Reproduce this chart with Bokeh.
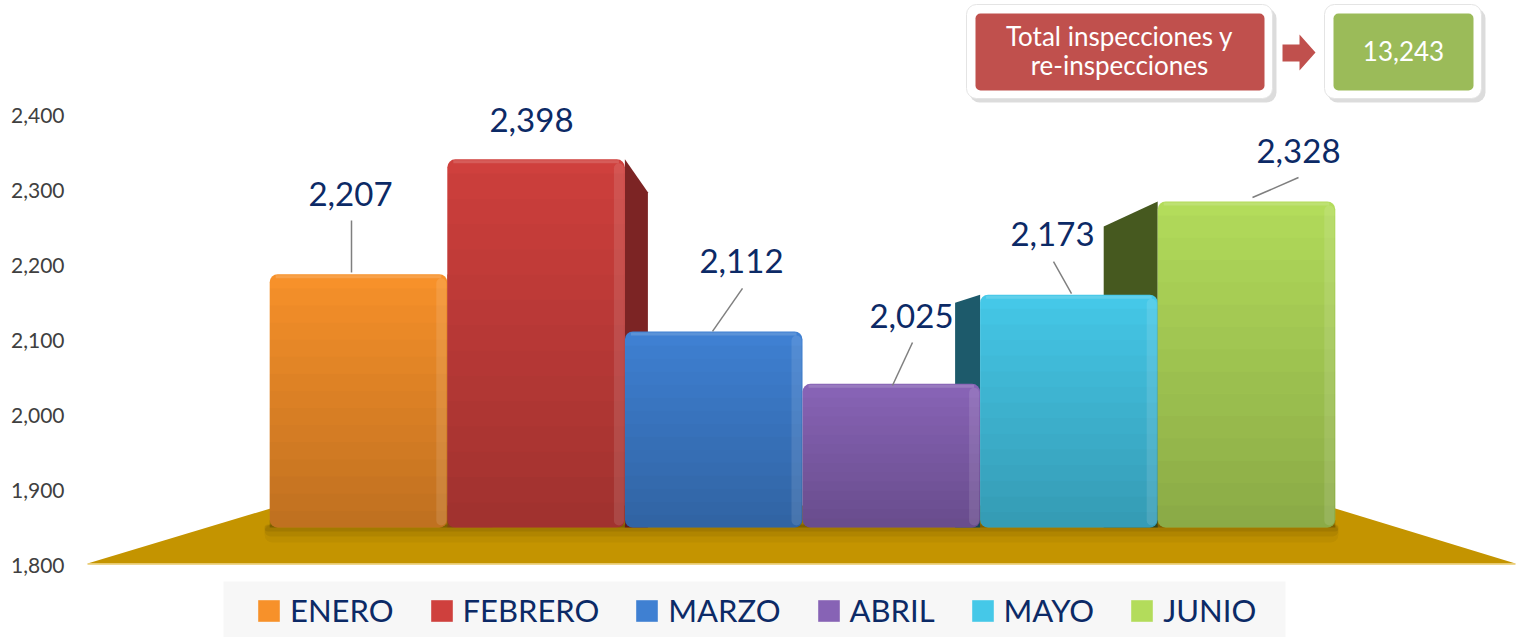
import numpy as np
from bokeh.plotting import figure
from bokeh.models import Range1d, ColumnDataSource, FixedTicker, NumeralTickFormatter
from bokeh.core.properties import value
from bokeh.embed import file_html
from bokeh.resources import INLINE

# ---------------- data ----------------
months = ["ENERO", "FEBRERO", "MARZO", "ABRIL", "MAYO", "JUNIO"]
inspections = [2207, 2398, 2112, 2025, 2173, 2328]
y_ticks = [1800, 1900, 2000, 2100, 2200, 2300, 2400]
total_title = ["Total inspecciones y", "re-inspecciones"]
total_value = 13243

# ---------------- styles ----------------
bar_colors = ["#f7912a", "#cf403d", "#3f80d2", "#8763b5", "#45c8e8", "#b3dc5b"]
side_colors = ["#a85a18", "#7c2424", "#2b5fa6", "#5e4088", "#1d5a6b", "#46591f"]
NAVY = "#0c2a66"
FONT = "Lato"

# geometry (screen pixels -> data)
KX = 177.6            # px per category
KM = 0.75             # px per unit, main axis
KB = 0.6018           # px per unit, perspective bar axis
def X(px): return (px - 358) / KX
def Y(py): return 1800 + (565 - py) / KM
def YB(py): return 2207.17 - (py - 273.67) / KB

W, H = 1521, 637
LEFT = 78
p = figure(width=W, height=H, output_backend="svg", toolbar_location=None,
           x_range=Range1d(X(LEFT), X(W)), y_range=Range1d(Y(H), Y(0)),
           min_border=0, min_border_left=LEFT)
p.extra_y_ranges = {"bars": Range1d(YB(H), YB(0))}
base = YB(527)

p.xaxis.visible = False
p.grid.visible = False
p.outline_line_color = None
p.background_fill_color = "white"
p.border_fill_color = "white"
ya = p.yaxis[0]
ya.ticker = FixedTicker(ticks=y_ticks)
ya.formatter = NumeralTickFormatter(format="0,0")
ya.axis_line_color = None
ya.major_tick_line_color = None
ya.minor_tick_line_color = None
ya.major_tick_out = 0
ya.major_tick_in = 0
ya.major_label_standoff = 14
ya.major_label_text_font = FONT
ya.major_label_text_font_size = "21px"
ya.major_label_text_color = "#404040"

# ---------------- floor ----------------
p.patch([X(87), X(1515), X(1325), X(280)], [Y(563), Y(563), Y(505), Y(505)],
        fill_color="#c49400", line_color=None)
p.line([X(87), X(1515)], [Y(563.5), Y(563.5)], line_color="#e8c86a", line_width=1.5)
for (y0, y1, a) in [(524, 542, 0.04), (524, 536, 0.06), (524, 531, 0.08)]:
    p.quad(left=X(264), right=X(1338), top=Y(y0), bottom=Y(y1), fill_color="black",
           fill_alpha=a, line_color=None, border_radius=8)

# legend background
p.quad(left=X(223), right=X(1285), top=Y(581), bottom=Y(645), fill_color="#f7f7f7", line_color=None)

# ---------------- bars ----------------
x = np.arange(len(months), dtype=float)
v = np.array(inspections, dtype=float)

# side faces (perspective)
side_dx = [45, 23, 0, 0, -25, -54]
side_drop = [30, 33, 0, 0, 8, 25]
sxs, sys_, scs = [], [], []
for i in range(len(months)):
    if side_dx[i] == 0:
        continue
    e = x[i] + (0.5 if side_dx[i] > 0 else -0.5)
    e2 = e + side_dx[i] / KX
    sxs.append([e, e2, e2, e])
    sys_.append([v[i], v[i] - side_drop[i] / KB, base, base])
    scs.append(side_colors[i])
p.patches(sxs, sys_, fill_color=scs, line_color=None, y_range_name="bars")

src = ColumnDataSource(dict(x=x, top=v, month=months, color=bar_colors))
bars = p.vbar(x="x", top="top", bottom=base, width=1.0, source=src, fill_color="color",
              line_color=None, y_range_name="bars", border_radius=8, legend_field="month")

# vertical shading
N = 14
gl, gr, gt, gb, ga = [], [], [], [], []
for i in range(len(months)):
    top = v[i] - 14 / KB
    edges = np.linspace(top, base, N + 1)
    for k in range(N):
        gl.append(x[i] - 0.5); gr.append(x[i] + 0.5)
        gt.append(edges[k]); gb.append(edges[k + 1])
        ga.append(0.02 + 0.2 * k / (N - 1))
p.quad(left=gl, right=gr, top=gt, bottom=gb, fill_color="black", fill_alpha=ga,
       line_color=None, y_range_name="bars")
# right-edge highlight
p.quad(left=x + 0.5 - 11 / KX, right=x + 0.5 - 1 / KX, top=v - 4 / KB, bottom=base + 2 / KB,
       fill_color="white", fill_alpha=0.11, line_color=None, y_range_name="bars", border_radius=5)
# top rim highlight
p.quad(left=x - 0.5 + 6 / KX, right=x + 0.5 - 6 / KX, top=v - 1 / KB, bottom=v - 4 / KB,
       fill_color="white", fill_alpha=0.15, line_color=None, y_range_name="bars")

# ---------------- value labels ----------------
label_dx = [-8, -4.6, 27.8, 20.2, -16.4, 52]
label_up = [80.5, 39.5, 70.5, 68, 61, 50.5]
lsrc = ColumnDataSource(dict(x=x + np.array(label_dx) / KX,
                             y=v + np.array(label_up) / KB,
                             text=[f"{int(t):,}" for t in inspections]))
p.text(x="x", y="y", text="text", source=lsrc, y_range_name="bars",
       text_font=value(FONT), text_font_size=value("33px"), text_color=NAVY,
       text_align="center", text_baseline="middle")

leader = [(-7, 53.8, -7, 1.8), None, (28.8, 43, -1.2, 0), (21.2, 41.3, 1.2, -1.7),
          (-15.4, 33.2, 2.6, 1.2), (52, 23.9, 6, 3.9)]
x0s, y0s, x1s, y1s = [], [], [], []
for i, ld in enumerate(leader):
    if ld is None:
        continue
    x0s.append(x[i] + ld[0] / KX); y0s.append(v[i] + ld[1] / KB)
    x1s.append(x[i] + ld[2] / KX); y1s.append(v[i] + ld[3] / KB)
p.segment(x0s, y0s, x1s, y1s, line_color="#7f7f7f", line_width=1.5, y_range_name="bars")

# ---------------- total boxes ----------------
p.quad(left=X(969), right=X(1276), top=Y(8), bottom=Y(102), fill_color="#8a8a8a",
       fill_alpha=0.3, line_color=None, border_radius=10)
p.quad(left=X(966), right=X(1272), top=Y(4), bottom=Y(98), fill_color="white",
       line_color="#e4e4e4", border_radius=10)
p.quad(left=X(975), right=X(1264), top=Y(13), bottom=Y(90), fill_color="#c0504d",
       line_color=None, border_radius=5)
p.quad(left=X(1327), right=X(1485), top=Y(8), bottom=Y(102), fill_color="#8a8a8a",
       fill_alpha=0.3, line_color=None, border_radius=10)
p.quad(left=X(1324), right=X(1481), top=Y(4), bottom=Y(98), fill_color="white",
       line_color="#e4e4e4", border_radius=10)
p.quad(left=X(1333), right=X(1473), top=Y(13), bottom=Y(90), fill_color="#9bbb59",
       line_color=None, border_radius=5)
p.patch([X(1282), X(1299), X(1299), X(1315), X(1299), X(1299), X(1282)],
        [Y(44), Y(44), Y(34), Y(52), Y(70), Y(61), Y(61)],
        fill_color="#c0504d", line_color=None)
p.text(x=[X(1119), X(1119), X(1403)], y=[Y(35), Y(64), Y(50)],
       text=[total_title[0], total_title[1], f"{total_value:,}"],
       text_font=value(FONT), text_font_size=value("26px"), text_color="white",
       text_align="center", text_baseline="middle")

# ---------------- legend ----------------
lg = p.legend[0]
lg.orientation = "horizontal"
lg.location = (177, 8)
lg.padding = 0
lg.margin = 0
lg.spacing = 34
lg.glyph_width = 27
lg.glyph_height = 27
lg.label_standoff = 8
lg.label_text_font = FONT
lg.label_text_font_size = "31px"
lg.label_text_color = NAVY
lg.background_fill_alpha = 0
lg.border_line_alpha = 0

open("out.html", "w").write(file_html(p, INLINE))
